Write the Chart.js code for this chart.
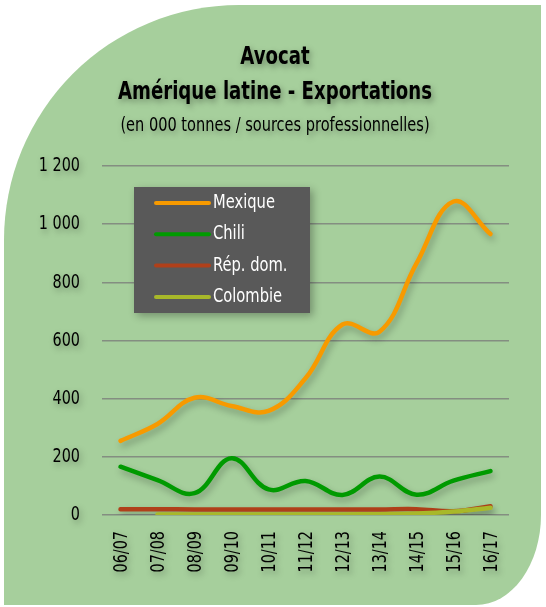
<!DOCTYPE html>
<html>
<head>
<meta charset="utf-8">
<script src="https://cdn.jsdelivr.net/npm/chart.js@4.4.1/dist/chart.umd.min.js"></script>
<style>
  html, body { margin: 0; padding: 0; background: #ffffff; }
  #wrap { position: relative; width: 546px; height: 607px; overflow: hidden; }
  #bg { position: absolute; left: 4px; top: 5px; width: 537px; height: 600px;
        background: #a6cf9c; border-radius: 235px 0 65px 0 / 235px 0 90px 0; }
  #c { position: absolute; left: 0; top: 0; }
</style>
</head>
<body>
<div id="wrap">
  <div id="bg"></div>
  <canvas id="c" width="546" height="607"></canvas>
</div>
<script>
// ---- data ----
const categories = ['06/07','07/08','08/09','09/10','10/11','11/12','12/13','13/14','14/15','15/16','16/17'];
const seriesNames = ['Mexique', 'Chili', 'Rép. dom.', 'Colombie'];
const mexique  = [255, 313, 403, 375, 358, 470, 655, 630, 865, 1078, 966];
const chili    = [166, 120, 75, 195, 88, 117, 69, 132, 70, 118, 151];
const repdom   = [20, 20, 19, 19, 19, 19, 19, 19, 20, 13, 30];
const colombie = [null, 2, 2, 2, 2, 2, 2, 3, 5, 12, 25];
const yTicks   = [0, 200, 400, 600, 800, 1000, 1200];
const titleLines = ['Avocat', 'Amérique latine - Exportations'];
const subtitleText = '(en 000 tonnes / sources professionnelles)';

const colors = ['#f79a00', '#009a00', '#b0401a', '#a8b82a'];
const FONT = "'DejaVu Sans Condensed', 'DejaVu Sans', sans-serif";

function fmt(v) {
  const s = String(v);
  return s.length > 3 ? s.slice(0, s.length - 3) + ' ' + s.slice(-3) : s;
}

// draw horizontally condensed text (the original uses a condensed typeface)
function condText(ctx, text, x, y, opt) {
  ctx.save();
  ctx.font = opt.font;
  ctx.fillStyle = opt.color || '#000';
  ctx.textAlign = opt.align || 'left';
  ctx.textBaseline = 'middle';
  if (opt.shadow) {
    ctx.shadowColor = 'rgba(0,0,0,0.35)';
    ctx.shadowBlur = 6;
    ctx.shadowOffsetX = 2;
    ctx.shadowOffsetY = 3;
  }
  ctx.translate(x, y);
  if (opt.rotate) ctx.rotate(opt.rotate);
  ctx.scale(opt.sx || 1, 1);
  ctx.fillText(text, 0, 0);
  ctx.restore();
}

const textPlugin = {
  id: 'textPlugin',
  afterDraw(chart) {
    const ctx = chart.ctx;
    const mid = chart.width / 2;
    // titles
    condText(ctx, titleLines[0], mid + 2, 58, { font: 'bold 24px ' + FONT, align: 'center', sx: 0.84, shadow: true });
    condText(ctx, titleLines[1], mid + 2, 93, { font: 'bold 24px ' + FONT, align: 'center', sx: 0.84, shadow: true });
    condText(ctx, subtitleText, mid + 2, 126, { font: '20px ' + FONT, align: 'center', sx: 0.81, shadow: true });
    // y tick labels
    const ys = chart.scales.y;
    ys.ticks.forEach((t, i) => {
      const y = ys.getPixelForTick(i);
      condText(ctx, fmt(t.value), ys.right - 22, y, { font: '20px ' + FONT, align: 'right', sx: 0.8, shadow: true });
    });
    // x tick labels
    const xs = chart.scales.x;
    xs.ticks.forEach((t, i) => {
      const x = xs.getPixelForTick(i);
      condText(ctx, categories[i], x + 1, xs.top + 16, { font: '20px ' + FONT, align: 'right', sx: 0.8, rotate: -Math.PI / 2, shadow: true });
    });
  }
};

const lineShadow = {
  id: 'lineShadow',
  beforeDatasetsDraw(chart) {
    const ctx = chart.ctx;
    ctx.save();
    ctx.shadowColor = 'rgba(0,0,0,0.28)';
    ctx.shadowBlur = 7;
    ctx.shadowOffsetX = 2;
    ctx.shadowOffsetY = 4;
  },
  afterDatasetsDraw(chart) {
    chart.ctx.restore();
  }
};

const boxLegend = {
  id: 'boxLegend',
  afterDraw(chart) {
    const ctx = chart.ctx;
    const a = chart.chartArea;
    const x0 = a.left + 32, y0 = a.top + 21, w = 176, h = 126;
    ctx.save();
    ctx.shadowColor = 'rgba(0,0,0,0.3)';
    ctx.shadowBlur = 8;
    ctx.shadowOffsetX = 3;
    ctx.shadowOffsetY = 3;
    ctx.fillStyle = '#595959';
    ctx.fillRect(x0, y0, w, h);
    ctx.restore();
    chart.data.datasets.forEach((ds, i) => {
      const y = y0 + 16 + i * 31.3;
      ctx.save();
      ctx.strokeStyle = ds.borderColor;
      ctx.lineWidth = 4;
      ctx.lineCap = 'round';
      ctx.beginPath();
      ctx.moveTo(x0 + 22, y);
      ctx.lineTo(x0 + 75, y);
      ctx.stroke();
      ctx.restore();
      condText(ctx, ds.label, x0 + 79, y, { font: '19px ' + FONT, color: '#ffffff', sx: 0.86 });
    });
  }
};

const seriesData = [mexique, chili, repdom, colombie];
const datasets = seriesNames.map((name, i) => ({
  label: name,
  data: seriesData[i],
  borderColor: colors[i],
  backgroundColor: colors[i],
  borderWidth: 4.5,
  pointRadius: 0,
  tension: 0.4,
  fill: false,
  borderCapStyle: 'round',
  order: 3 - i
}));

new Chart(document.getElementById('c'), {
  type: 'line',
  data: { labels: categories, datasets },
  options: {
    responsive: false,
    animation: false,
    layout: { padding: { top: 166, left: 0, right: 37, bottom: 0 } },
    plugins: {
      legend: { display: false },
      tooltip: { enabled: false },
      title: { display: false },
      subtitle: { display: false }
    },
    scales: {
      x: {
        offset: true,
        afterFit(s) { s.height = 92; },
        grid: { display: false, drawTicks: false },
        border: { display: false },
        ticks: { display: false, autoSkip: false }
      },
      y: {
        min: 0, max: 1200,
        afterFit(s) { s.width = 102; },
        afterBuildTicks(s) { s.ticks = yTicks.map(v => ({ value: v })); },
        grid: { color: 'rgba(120,120,120,0.75)', lineWidth: 1.5, drawTicks: false },
        border: { display: false },
        ticks: { display: false }
      }
    }
  },
  plugins: [lineShadow, boxLegend, textPlugin]
});
</script>
</body>
</html>
